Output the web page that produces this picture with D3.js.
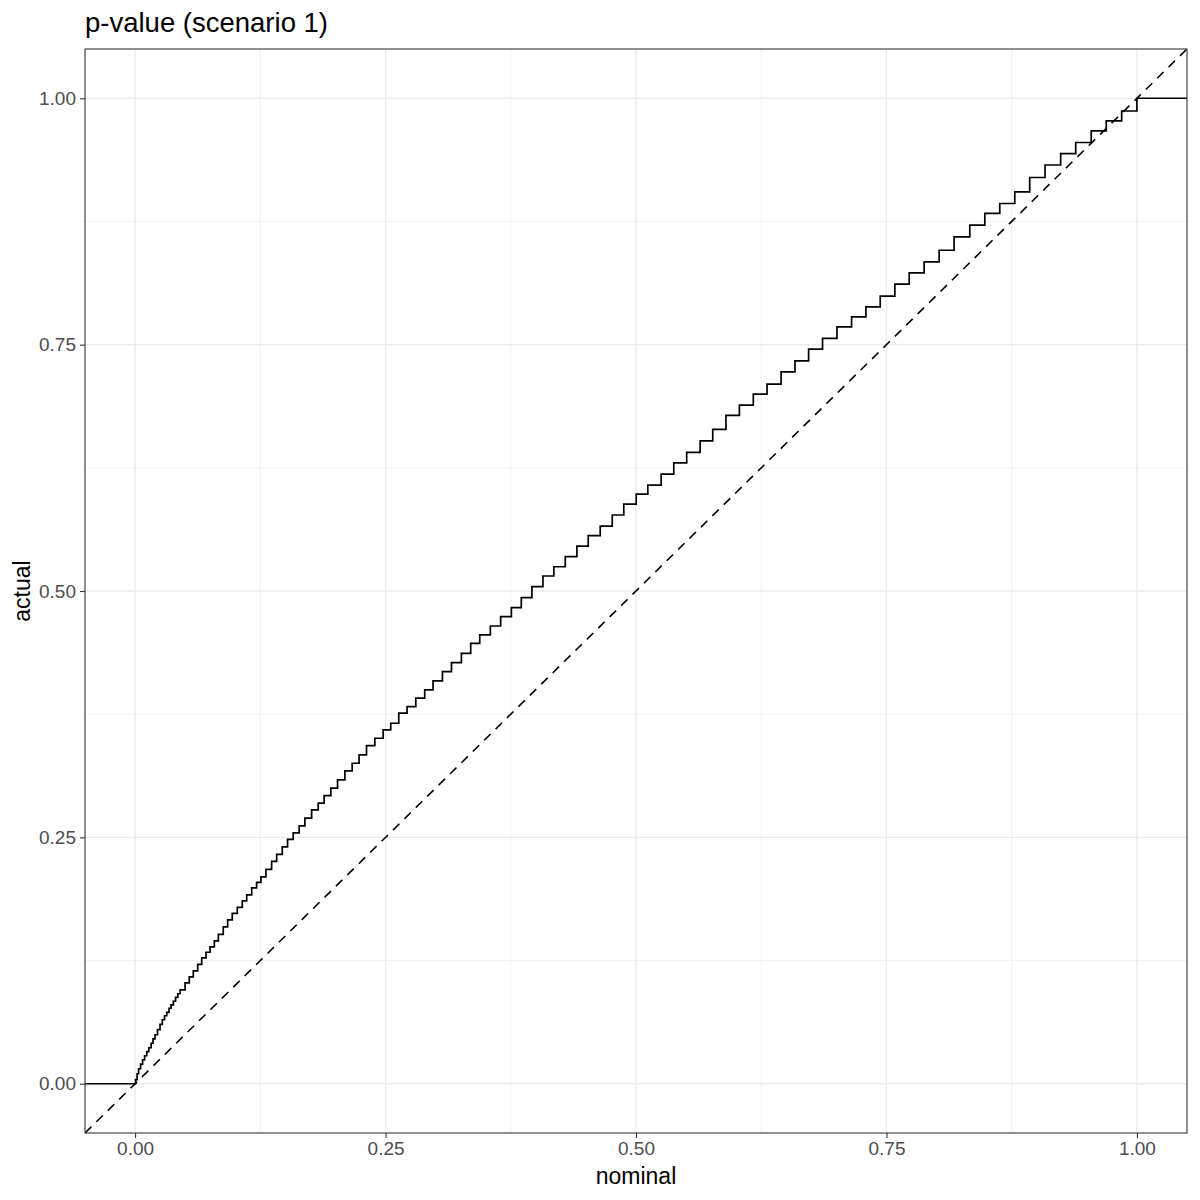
<!DOCTYPE html>
<html>
<head>
<meta charset="utf-8">
<script src="https://cdn.jsdelivr.net/npm/d3@7"></script>
<style>
  body { margin: 0; background: #fff; }
  text { font-family: "Liberation Sans", Arial, sans-serif; }
</style>
</head>
<body>
<script>
// step positions (nominal level where the curve jumps) and the level after the jump
var nominal = [
  0.0005, 0.0020, 0.0035, 0.0055, 0.0075, 0.0095, 0.0117, 0.0137, 0.0160, 0.0179,
  0.0199, 0.0224, 0.0249, 0.0272, 0.0294, 0.0316, 0.0339, 0.0359, 0.0382, 0.0404,
  0.0426, 0.0449, 0.0499, 0.0541, 0.0581, 0.0625, 0.0665, 0.0708, 0.0748, 0.0791,
  0.0831, 0.0880, 0.0924, 0.0970, 0.1020, 0.1070, 0.1114, 0.1164, 0.1213, 0.1256,
  0.1306, 0.1363, 0.1413, 0.1469, 0.1522, 0.1578, 0.1638, 0.1695, 0.1762, 0.1828,
  0.1887, 0.1954, 0.2021, 0.2094, 0.2167, 0.2236, 0.2310, 0.2393, 0.2476, 0.2552,
  0.2632, 0.2715, 0.2802, 0.2891, 0.2974, 0.3068, 0.3158, 0.3257, 0.3350, 0.3440,
  0.3546, 0.3649, 0.3756, 0.3855, 0.3961, 0.4071, 0.4180, 0.4294, 0.4410, 0.4523,
  0.4643, 0.4763, 0.4878, 0.5002, 0.5118, 0.5251, 0.5377, 0.5506, 0.5640, 0.5766,
  0.5898, 0.6032, 0.6171, 0.6308, 0.6448, 0.6587, 0.6723, 0.6862, 0.7006, 0.7152,
  0.7295, 0.7438, 0.7584, 0.7727, 0.7876, 0.8026, 0.8175, 0.8332, 0.8482, 0.8631,
  0.8781, 0.8930, 0.9083, 0.9239, 0.9389, 0.9544, 0.9694, 0.9848, 1.0000
];
var actual = [
  0.0041, 0.0101, 0.0152, 0.0198, 0.0243, 0.0284, 0.0325, 0.0365, 0.0411, 0.0456,
  0.0497, 0.0548, 0.0603, 0.0649, 0.0690, 0.0725, 0.0766, 0.0801, 0.0837, 0.0877,
  0.0913, 0.0953, 0.1024, 0.1085, 0.1146, 0.1212, 0.1278, 0.1334, 0.1389, 0.1450,
  0.1516, 0.1592, 0.1663, 0.1729, 0.1790, 0.1856, 0.1917, 0.1988, 0.2044, 0.2099,
  0.2175, 0.2257, 0.2328, 0.2404, 0.2480, 0.2546, 0.2617, 0.2695, 0.2779, 0.2847,
  0.2924, 0.2999, 0.3083, 0.3174, 0.3252, 0.3337, 0.3431, 0.3506, 0.3590, 0.3658,
  0.3760, 0.3827, 0.3912, 0.3996, 0.4087, 0.4182, 0.4273, 0.4368, 0.4469, 0.4554,
  0.4645, 0.4739, 0.4831, 0.4932, 0.5044, 0.5152, 0.5246, 0.5348, 0.5456, 0.5561,
  0.5659, 0.5771, 0.5882, 0.5984, 0.6075, 0.6187, 0.6301, 0.6407, 0.6524, 0.6640,
  0.6782, 0.6886, 0.6998, 0.7099, 0.7224, 0.7336, 0.7454, 0.7563, 0.7680, 0.7782,
  0.7883, 0.7992, 0.8114, 0.8228, 0.8340, 0.8458, 0.8593, 0.8712, 0.8831, 0.8932,
  0.9050, 0.9196, 0.9323, 0.9439, 0.9551, 0.9669, 0.9770, 0.9871, 1.0000
];

var majorTicks = [0, 0.25, 0.5, 0.75, 1];
var minorTicks = [0.125, 0.375, 0.625, 0.875];
var tickFmt = d3.format(".2f");

var chartTitle = "p-value (scenario 1)";
var xTitle = "nominal";
var yTitle = "actual";

var width = 1200, height = 1200;
var margin = {top: 49, right: 13, bottom: 67, left: 85};

var x = d3.scaleLinear()
  .domain([-0.05, 1.05])
  .range([margin.left, width - margin.right]);

var y = d3.scaleLinear()
  .domain([-0.05, 1.05])
  .range([height - margin.bottom, margin.top]);

var svg = d3.select("body")
  .append("svg")
  .attr("width", width)
  .attr("height", height);

svg.append("defs").append("clipPath")
  .attr("id", "panel")
  .append("rect")
  .attr("x", margin.left)
  .attr("y", margin.top)
  .attr("width", width - margin.left - margin.right)
  .attr("height", height - margin.top - margin.bottom);

/* grid */
var grid = svg.append("g");
grid.selectAll(".vminor")
  .data(minorTicks).enter().append("line")
  .attr("x1", d => x(d)).attr("x2", d => x(d))
  .attr("y1", margin.top).attr("y2", height - margin.bottom)
  .style("stroke", "#ebebeb").style("stroke-width", 0.7);
grid.selectAll(".hminor")
  .data(minorTicks).enter().append("line")
  .attr("y1", d => y(d)).attr("y2", d => y(d))
  .attr("x1", margin.left).attr("x2", width - margin.right)
  .style("stroke", "#ebebeb").style("stroke-width", 0.7);
grid.selectAll(".vmajor")
  .data(majorTicks).enter().append("line")
  .attr("x1", d => x(d)).attr("x2", d => x(d))
  .attr("y1", margin.top).attr("y2", height - margin.bottom)
  .style("stroke", "#ebebeb").style("stroke-width", 1.4);
grid.selectAll(".hmajor")
  .data(majorTicks).enter().append("line")
  .attr("y1", d => y(d)).attr("y2", d => y(d))
  .attr("x1", margin.left).attr("x2", width - margin.right)
  .style("stroke", "#ebebeb").style("stroke-width", 1.4);

/* marks */
var plot = svg.append("g").attr("clip-path", "url(#panel)");

plot.append("line")
  .attr("x1", x(-0.05)).attr("y1", y(-0.05))
  .attr("x2", x(1.05)).attr("y2", y(1.05))
  .style("stroke", "#000")
  .style("stroke-width", 1.6)
  .style("stroke-dasharray", "9,7");

var steps = [[-0.05, 0]].concat(nominal.map((d, i) => [d, actual[i]]));
steps.push([1.05, actual[actual.length - 1]]);

var stepLine = d3.line()
  .x(d => x(d[0]))
  .y(d => y(d[1]))
  .curve(d3.curveStepAfter);

plot.append("path")
  .datum(steps)
  .attr("d", stepLine)
  .style("fill", "none")
  .style("stroke", "#000")
  .style("stroke-width", 1.7);

/* panel border */
svg.append("rect")
  .attr("x", margin.left)
  .attr("y", margin.top)
  .attr("width", width - margin.left - margin.right)
  .attr("height", height - margin.top - margin.bottom)
  .style("fill", "none")
  .style("stroke", "#333")
  .style("stroke-width", 1.1);

/* axes */
var xAxis = g => g
  .attr("transform", `translate(0,${height - margin.bottom})`)
  .call(d3.axisBottom(x).tickValues(majorTicks).tickFormat(tickFmt).tickSize(5).tickPadding(4))
  .call(g => g.select(".domain").remove())
  .call(g => g.selectAll(".tick line").style("stroke", "#333").style("stroke-width", 1.1))
  .call(g => g.selectAll(".tick text").style("fill", "#4d4d4d").style("font-size", "19px")
    .style("font-family", "'Liberation Sans', Arial, sans-serif"));

var yAxis = g => g
  .attr("transform", `translate(${margin.left},0)`)
  .call(d3.axisLeft(y).tickValues(majorTicks).tickFormat(tickFmt).tickSize(5).tickPadding(4))
  .call(g => g.select(".domain").remove())
  .call(g => g.selectAll(".tick line").style("stroke", "#333").style("stroke-width", 1.1))
  .call(g => g.selectAll(".tick text").style("fill", "#4d4d4d").style("font-size", "19px")
    .style("font-family", "'Liberation Sans', Arial, sans-serif"));

svg.append("g").call(xAxis);
svg.append("g").call(yAxis);

/* titles */
svg.append("text")
  .attr("x", (margin.left + width - margin.right) / 2)
  .attr("y", 1184)
  .attr("text-anchor", "middle")
  .style("font-size", "23px")
  .text(xTitle);

svg.append("text")
  .attr("transform", `translate(30,${(margin.top + height - margin.bottom) / 2}) rotate(-90)`)
  .attr("text-anchor", "middle")
  .style("font-size", "23px")
  .text(yTitle);

svg.append("text")
  .attr("x", margin.left)
  .attr("y", 32)
  .style("font-size", "27.5px")
  .text(chartTitle);
</script>
</body>
</html>
